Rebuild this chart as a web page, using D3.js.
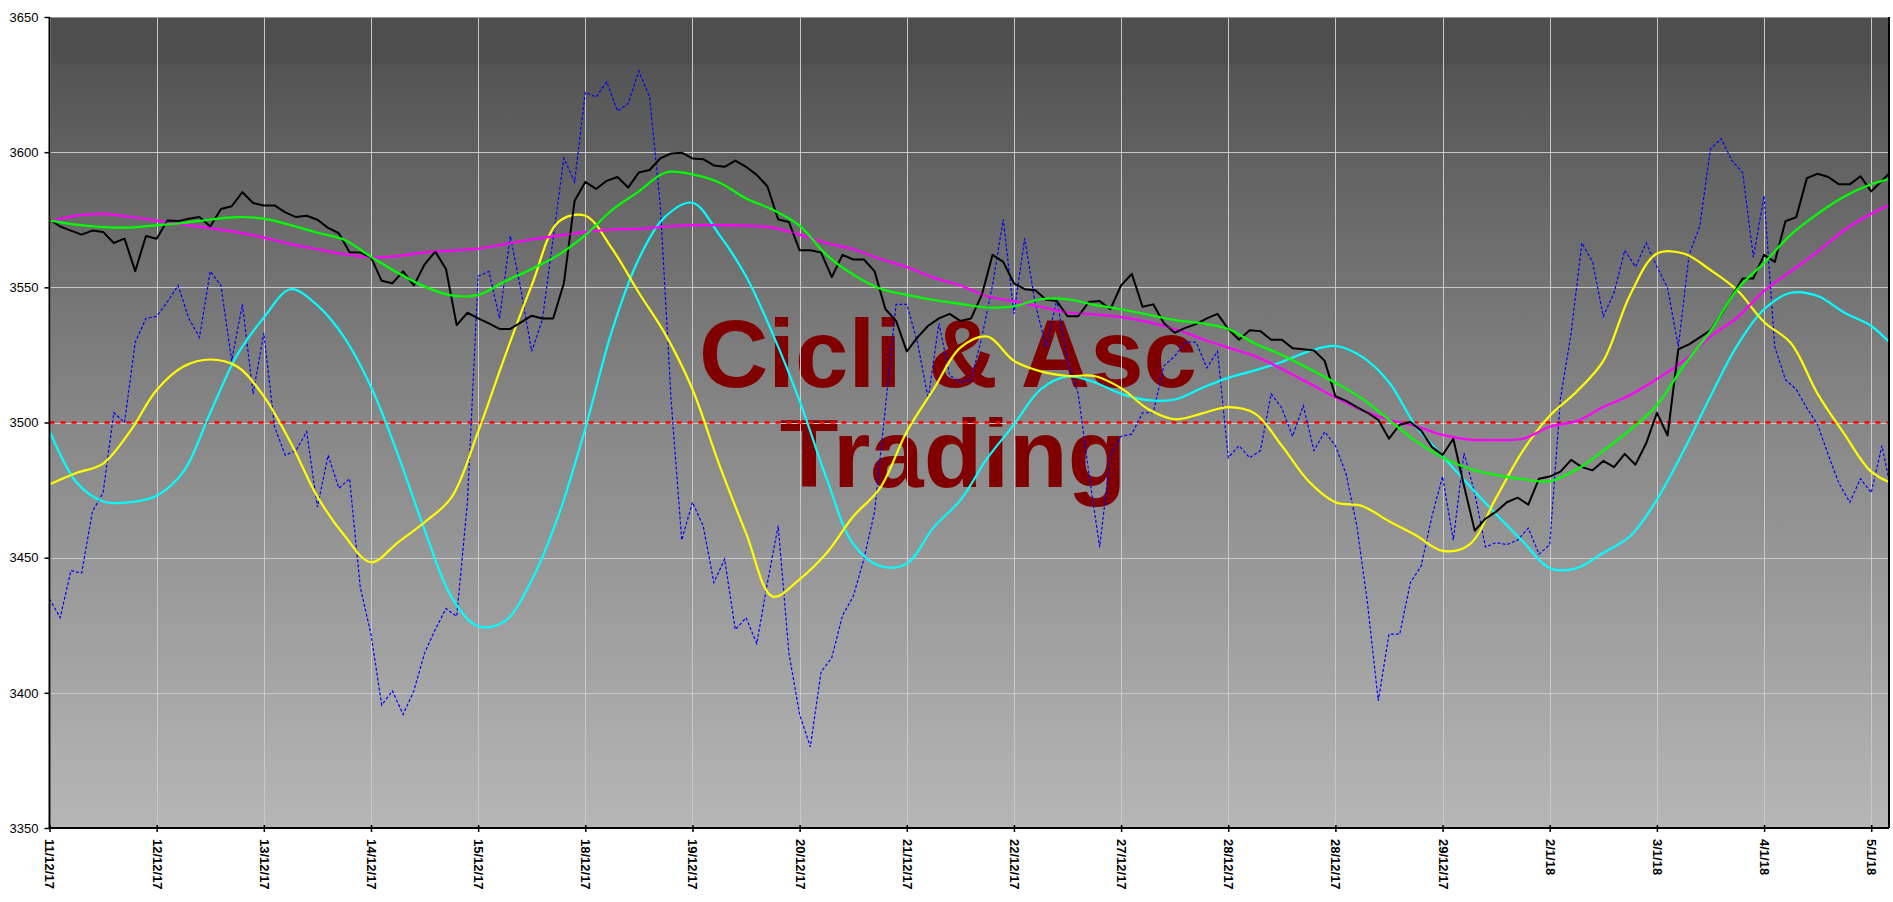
<!DOCTYPE html>
<html>
<head>
<meta charset="utf-8">
<script src="https://cdn.jsdelivr.net/npm/d3@7"></script>
<style>
  html, body { margin: 0; padding: 0; background: #ffffff; }
  svg { display: block; }
  text { font-family: "Liberation Sans", Arial, sans-serif; }
</style>
</head>
<body>
<svg id="chart" width="1893" height="902"></svg>
<script>
// ---------------- DATA ----------------
const tickLabels = ["11/12/17","12/12/17","13/12/17","14/12/17","15/12/17","18/12/17","19/12/17","20/12/17","21/12/17","22/12/17","27/12/17","28/12/17","28/12/17","29/12/17","2/1/18","3/1/18","4/1/18","5/1/18"];
const yTicks = [3350, 3400, 3450, 3500, 3550, 3600, 3650];
const refLevel = 3500;
const priceStep = 0.1;   // sessions between price samples
const smoothStep = 0.25; // sessions between smoothed samples

const price = [3575,3572.5,3571,3569.5,3571,3570.5,3566.4,3568,3556,3569,3568,3574.7,3574.5,3575.4,3576,3572.5,3579,3580,3585.2,3581.2,
3580.3,3580.3,3577.7,3576,3576.5,3575,3572,3570,3563,3562.9,3561.1,3552.4,3551.5,3555.9,3550.7,3558.5,3563.2,3556.8,3536,3540.6,
3538.5,3536.7,3534.6,3534.6,3537,3539.5,3538.5,3538.5,3551.5,3582,3589,3586.4,3589.4,3590.8,3586.9,3592.5,3593.4,3597.7,3599.5,3599.8,
3597.7,3597.4,3595.1,3594.6,3596.9,3594.6,3591.6,3587.3,3575.1,3574.2,3563.7,3563.7,3562.9,3553.8,3562,3560.3,3560.3,3555.9,3542,3537.6,
3526.3,3531.5,3535.8,3538.5,3540.2,3537.6,3538.5,3547.2,3562,3559.4,3551.5,3549.3,3548.9,3545.4,3544.9,3539.3,3539.3,3544.6,3544.9,3541.9,
3550.7,3555,3542.8,3543.7,3536.7,3533.2,3535,3536.4,3538.5,3540.2,3534.6,3530.6,3534.1,3533.8,3530.6,3530.6,3527.5,3527.1,3526.6,3522.8,
3509.7,3508,3505.7,3503.6,3501,3494,3499.2,3500.2,3497,3491,3488,3494,3476.6,3460,3464.4,3467,3470.5,3472.2,3469.6,3479.2,
3480,3481.8,3486.2,3483.5,3482.3,3485.8,3483.5,3488.4,3484.4,3492.3,3503.6,3495.2,3527.1,3528.9,3531.5,3534.1,3539.9,3546.8,3553.3,3553.3,
3562,3559.4,3574.5,3575.9,3590.4,3592,3590.8,3588.1,3588.1,3591.1,3585.5,3589.4,3593.4];

const oscillator = [3434.7,3427.8,3445.2,3444.3,3467,3474,3503.6,3500,3529.7,3538.5,3539.3,3544.6,3550.7,3538.5,3531.5,3555.9,3550.7,3522.8,3543.7,3510.6,
3533.2,3498.4,3487.9,3489.6,3496.6,3468.7,3487.9,3475.7,3479.2,3439.1,3421.7,3395.5,3400.7,3392,3400.7,3414.7,3423.4,3431.2,3428.3,3470.5,
3554.1,3555.9,3538.5,3569,3548.9,3526.3,3538.1,3568.1,3597.7,3589,3622.1,3620.4,3626,3615.2,3618,3630,3620.4,3580.3,3508.8,3456.5,
3470.5,3461.8,3440.8,3449.5,3423.4,3427.8,3418.2,3440.8,3461.8,3414.7,3392,3380,3407.7,3413,3428.6,3435.6,3449.5,3467,3505.3,3543.7,
3543.7,3529.7,3508.8,3536.7,3517.5,3514.9,3515.8,3531.5,3550.7,3575.1,3540.2,3568.1,3543.7,3528,3545.4,3522.8,3510.6,3481,3453.9,3487.9,
3494.9,3495.7,3503.6,3503.6,3521,3524.5,3529.7,3529.7,3520.2,3526.3,3487,3491.4,3487,3489.6,3510.6,3505.3,3494.9,3506.2,3489.6,3496.6,
3491.4,3480.9,3461.8,3433,3397,3421.7,3421.7,3440.8,3446.9,3465.2,3480,3456.5,3488.7,3473.9,3453.9,3455.6,3454.8,3456.5,3460.9,3451.3,
3454.8,3508.8,3533.2,3566.4,3559.4,3539.3,3548,3563.7,3557.6,3566.4,3557.6,3549.8,3528,3562,3572.5,3601.2,3605,3596.9,3592.5,3561.1,
3583.8,3528,3515.8,3512.3,3505.3,3499.2,3487.9,3477.4,3470.5,3479.2,3474,3491.4,3472.2];

const yellowCycle = [3477.1,3481.3,3484.8,3496.6,3512,3520.7,3523.3,3520.7,3509.7,3492.6,3472.6,3458.3,
3448.3,3455.6,3463.1,3472.2,3496.6,3524.5,3550.7,3574.2,3576.5,3564.3,3548,
3532.4,3512.3,3484.4,3459.1,3435.6,3442,3451.6,3465.2,3475.7,3496.6,3512.3,3527.7,
3531.8,3522.8,3518.9,3517.2,3517.2,3512.7,3505,3501.2,3503.3,3505.7,3503.3,
3491.4,3478.3,3470.5,3469.1,3463.5,3458.3,3452.5,3454.8,3472.2,3489.6,3502.5,3511.4,
3522.8,3547.2,3562.5,3562.5,3556.4,3548.9,3537.2,3529.4,3510.6,3495.7,3481.8,3476.6];

const cyanCycle = [3497,3478,3470.8,3470.5,3472.9,3481.8,3503.6,3524.9,3538.8,3549.3,3543.3,3531.5,
3513.2,3488.3,3460.4,3435.6,3424.6,3426.5,3441.7,3465.6,3497.8,3534.1,3560.6,
3576.3,3581.3,3569.5,3554.1,3532.7,3508,3479.5,3455.1,3446.9,3447.8,3461.2,3471.3,
3486.7,3499.2,3512.3,3517,3514.9,3510.6,3508.3,3508.5,3512.7,3516.5,3519.3,
3522.4,3526.3,3528.3,3524.3,3514.9,3498.7,3487.6,3476.6,3466.1,3456,3446.1,3446.1,
3451.8,3457.9,3471.5,3489.6,3509.7,3528.5,3541.9,3548,3546.8,3540.6,3535.7,3526.3];

const greenAvg = [3574.7,3573.2,3572.3,3572.1,3573,3573.8,3575.1,3576,3575.4,3573,3570.2,3567.6,
3561.3,3555.4,3550.3,3547,3547.2,3552.2,3556.8,3562,3569.3,3578.6,3585.5,
3592.5,3591.8,3588.8,3582.9,3578.7,3572.8,3562,3554.7,3549.6,3547.2,3545.3,3543.9,
3542.5,3543,3545.6,3545.6,3543.5,3541.9,3539.9,3537.9,3536.7,3534.6,3529.2,
3525,3520,3514.7,3508.8,3501,3493.1,3487.1,3482.9,3480.6,3479,3478.3,3482.6,
3489.6,3497.3,3506.4,3521,3533.8,3549.3,3559,3569.5,3577.2,3583.6,3588.1,3590.8];

const magentaAvg = [3574.2,3576.5,3577.2,3576.1,3574.7,3573.3,3571.9,3570.4,3568.4,3566,3564.1,3562.3,
3561.1,3561.6,3562.9,3563.6,3564.3,3566,3567.7,3569.1,3570.5,3571.4,3571.6,
3572.5,3573,3573,3572.8,3572.1,3569.5,3566.4,3564.1,3560.6,3557.5,3553.6,3550.7,
3546.7,3544.9,3542.8,3540.7,3540,3539,3537.2,3534.6,3531,3527.7,3524.5,
3519.8,3514.6,3509.3,3504.5,3501,3498.7,3495.4,3493.7,3493.5,3494,3498.4,3500.5,
3505.7,3510.2,3516.1,3522.8,3531.8,3538.8,3548.7,3555.9,3563.2,3571.2,3577.2,3582];

// ---------------- LAYOUT ----------------
const W = 1893, H = 902;
const plot = { left: 49.5, right: 1889, top: 17, bottom: 828 };
const xMax = 17.166;

const svg = d3.select("#chart");
const x = d3.scaleLinear().domain([0, xMax]).range([plot.left, plot.right]);
const y = d3.scaleLinear().domain([3350, 3650]).range([plot.bottom, plot.top]);

const defs = svg.append("defs");
const grad = defs.append("linearGradient").attr("id", "bg")
  .attr("x1", 0).attr("y1", 0).attr("x2", 0).attr("y2", 1);
[[0, "#4e4e4e"], [0.057, "#4f4f4f"], [0.06, "#545454"], [0.5, "#878787"], [1, "#b6b6b6"]]
  .forEach(([o, c]) => grad.append("stop").attr("offset", o).attr("stop-color", c));
defs.append("clipPath").attr("id", "clip").append("rect")
  .attr("x", plot.left).attr("y", plot.top)
  .attr("width", plot.right - plot.left).attr("height", plot.bottom - plot.top);

// background
svg.append("rect")
  .attr("x", plot.left).attr("y", plot.top)
  .attr("width", plot.right - plot.left).attr("height", plot.bottom - plot.top)
  .attr("fill", "url(#bg)");

// watermark
const wm = svg.append("g").attr("fill", "#800000")
  .attr("font-weight", "bold").attr("font-size", 96).attr("text-anchor", "middle");
wm.append("text").attr("x", 948).attr("y", 387).text("Cicli & Asc");
wm.append("text").attr("x", 953).attr("y", 487).text("Trading");

// grid
const grid = svg.append("g").attr("stroke", "#c8c8c8").attr("stroke-width", 1);
grid.selectAll("line.v").data(tickLabels.map((d, i) => i)).join("line")
  .attr("x1", d => Math.round(x(d)) + 0.5).attr("x2", d => Math.round(x(d)) + 0.5)
  .attr("y1", plot.top).attr("y2", plot.bottom);
grid.selectAll("line.h").data(yTicks.slice(1, -1)).join("line")
  .attr("x1", plot.left).attr("x2", plot.right)
  .attr("y1", d => Math.round(y(d)) + 0.5).attr("y2", d => Math.round(y(d)) + 0.5);

const g = svg.append("g").attr("clip-path", "url(#clip)");

// reference line
g.append("line")
  .attr("x1", plot.left).attr("x2", plot.right)
  .attr("y1", y(refLevel)).attr("y2", y(refLevel))
  .attr("stroke", "#ff0000").attr("stroke-width", 2.5).attr("stroke-dasharray", "5,6");

const lineRaw = step => d3.line().x((d, i) => x(i * step)).y(d => y(d));
const lineSmooth = step => d3.line().x((d, i) => x(i * step)).y(d => y(d)).curve(d3.curveCatmullRom.alpha(0.5));

g.append("path").datum(oscillator).attr("d", lineRaw(priceStep))
  .attr("fill", "none").attr("stroke", "#0000ff").attr("stroke-width", 1.2).attr("stroke-dasharray", "3,2");
g.append("path").datum(cyanCycle).attr("d", lineSmooth(smoothStep))
  .attr("fill", "none").attr("stroke", "#00ffff").attr("stroke-width", 2.2);
g.append("path").datum(yellowCycle).attr("d", lineSmooth(smoothStep))
  .attr("fill", "none").attr("stroke", "#ffff00").attr("stroke-width", 2.2);
g.append("path").datum(magentaAvg).attr("d", lineSmooth(smoothStep))
  .attr("fill", "none").attr("stroke", "#ff00ff").attr("stroke-width", 2.2);
g.append("path").datum(price).attr("d", lineRaw(priceStep))
  .attr("fill", "none").attr("stroke", "#000000").attr("stroke-width", 2).attr("stroke-linejoin", "round");
g.append("path").datum(greenAvg).attr("d", lineSmooth(smoothStep))
  .attr("fill", "none").attr("stroke", "#00ff00").attr("stroke-width", 2.2);

// frame
svg.append("line").attr("x1", plot.left).attr("x2", plot.right).attr("y1", plot.top + 0.5).attr("y2", plot.top + 0.5)
  .attr("stroke", "#9a9a9a").attr("stroke-width", 1);
svg.append("line").attr("x1", plot.right).attr("x2", plot.right).attr("y1", plot.top).attr("y2", plot.bottom)
  .attr("stroke", "#000").attr("stroke-width", 2);

// y axis
const yAxis = d3.axisLeft(y).tickValues(yTicks).tickSize(5).tickPadding(6).tickFormat(d3.format("d"));
const ya = svg.append("g").attr("transform", `translate(${plot.left},0)`).call(yAxis);
ya.select(".domain").attr("stroke", "#000").attr("stroke-width", 2).attr("d", `M0,${plot.top}V${plot.bottom}`);
ya.selectAll(".tick line").attr("stroke", "#000").attr("stroke-width", 1.5);
ya.selectAll(".tick text").attr("font-size", 13).attr("fill", "#000")
  .attr("font-family", "'Liberation Sans', Arial, sans-serif");

// x axis
const xAxis = d3.axisBottom(x).tickValues(tickLabels.map((d, i) => i)).tickSize(4).tickFormat(i => tickLabels[i]);
const xa = svg.append("g").attr("transform", `translate(0,${plot.bottom})`).call(xAxis);
xa.select(".domain").attr("stroke", "#000").attr("stroke-width", 2).attr("d", `M${plot.left},0H${plot.right}`);
xa.selectAll(".tick line").attr("stroke", "#000").attr("stroke-width", 1.5).attr("y1", -3);
xa.selectAll(".tick text")
  .attr("font-size", 13).attr("font-weight", "bold").attr("fill", "#000")
  .attr("font-family", "'Liberation Sans', Arial, sans-serif")
  .attr("text-anchor", "start")
  .attr("transform", "rotate(90)")
  .attr("x", 11).attr("y", 0).attr("dy", "0.35em");
</script>
</body>
</html>
